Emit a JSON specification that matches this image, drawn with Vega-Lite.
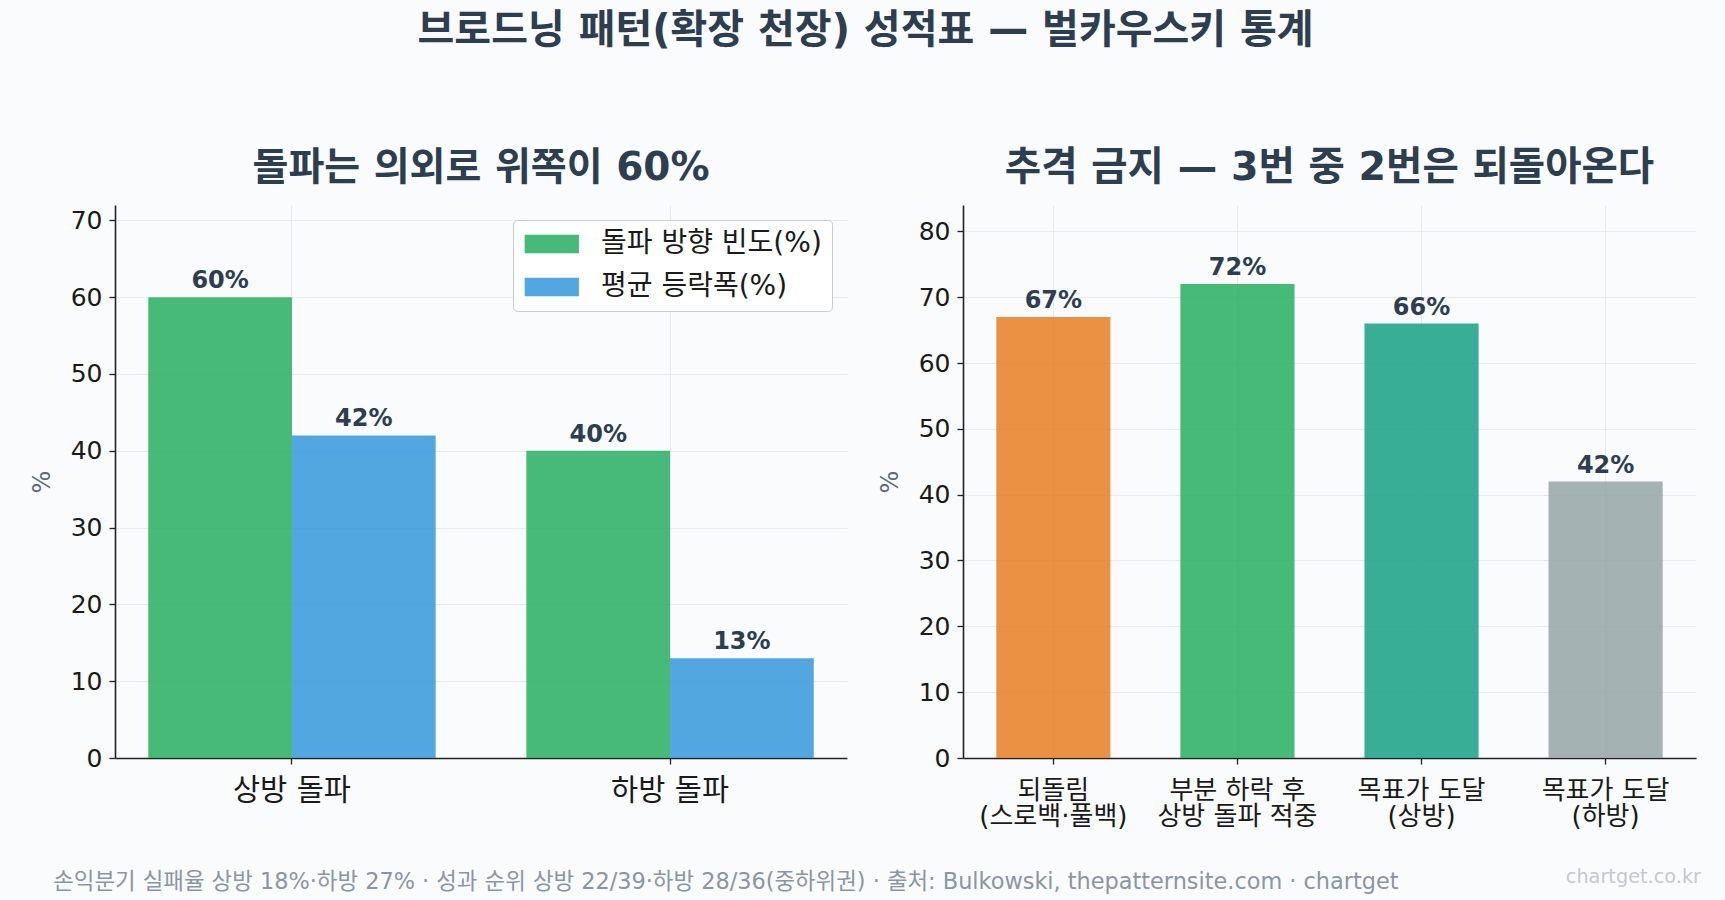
{
  "$schema": "https://vega.github.io/schema/vega-lite/v6.json",
  "background": "#fafbfc",
  "padding": {"left": 30, "right": 31, "top": 10, "bottom": 8},
  "title": {
    "text": "브로드닝 패턴(확장 천장) 성적표 — 벌카우스키 통계",
    "fontSize": 40,
    "fontWeight": "bold",
    "color": "#2c3e50",
    "anchor": "middle",
    "offset": 97
  },
  "config": {
    "font": "DejaVu Sans, Noto Sans CJK KR",
    "view": {"stroke": null},
    "axis": {
      "domainColor": "#222222",
      "domainWidth": 1.6,
      "tickColor": "#222222",
      "tickWidth": 1.3,
      "tickSize": 6,
      "labelColor": "#1a1a1a",
      "labelFontSize": 25,
      "labelPadding": 7,
      "gridColor": "#e8eaed",
      "gridWidth": 1,
      "titleColor": "#5a6a7d",
      "titleFontWeight": "normal",
      "titleFontSize": 24
    }
  },
  "vconcat": [
    {
      "title": {
        "text": "chartget.co.kr",
        "orient": "bottom",
        "anchor": "end",
        "fontSize": 19.3,
        "fontWeight": "normal",
        "color": "#c3c9d1",
        "offset": -25,
        "dx": 5
      },
      "vconcat": [
        {
          "title": {
            "text": "손익분기 실패율 상방 18%·하방 27% · 성과 순위 상방 22/39·하방 28/36(중하위권) · 출처: Bulkowski, thepatternsite.com · chartget",
            "orient": "bottom",
            "anchor": "start",
            "fontSize": 22.4,
            "fontWeight": "normal",
            "color": "#8a95a6",
            "offset": 41,
            "dx": 23
          },
          "spacing": 31,
          "resolve": {"scale": {"color": "independent"}, "legend": {"color": "independent"}},
          "hconcat": [
            {
              "width": 732,
              "height": 553,
              "title": {
                "text": "돌파는 의외로 위쪽이 60%",
                "fontSize": 39,
                "fontWeight": "bold",
                "color": "#2c3e50",
                "anchor": "middle",
                "frame": "group",
                "offset": 17
              },
              "data": {
                "values": [
                  {"방향": "상방 돌파", "지표": "돌파 방향 빈도(%)", "값": 60},
                  {"방향": "상방 돌파", "지표": "평균 등락폭(%)", "값": 42},
                  {"방향": "하방 돌파", "지표": "돌파 방향 빈도(%)", "값": 40},
                  {"방향": "하방 돌파", "지표": "평균 등락폭(%)", "값": 13}
                ]
              },
              "transform": [{"calculate": "datum['값'] + '%'", "as": "표시"}],
              "encoding": {
                "x": {
                  "field": "방향",
                  "type": "nominal",
                  "sort": ["상방 돌파", "하방 돌파"],
                  "scale": {"paddingInner": 0.24, "paddingOuter": 0.088},
                  "axis": {"title": null, "labelAngle": 0, "labelFontSize": 29.5, "labelPadding": 12, "grid": true, "bandPosition": 0.5}
                },
                "xOffset": {
                  "field": "지표",
                  "type": "nominal",
                  "sort": ["돌파 방향 빈도(%)", "평균 등락폭(%)"],
                  "scale": {"paddingInner": 0, "paddingOuter": 0}
                },
                "y": {
                  "field": "값",
                  "type": "quantitative",
                  "scale": {"domain": [0, 72], "nice": false},
                  "axis": {"title": "%", "values": [0, 10, 20, 30, 40, 50, 60, 70], "titlePadding": 16}
                }
              },
              "layer": [
                {
                  "mark": {"type": "bar", "opacity": 0.85},
                  "encoding": {
                    "color": {
                      "field": "지표",
                      "type": "nominal",
                      "sort": ["돌파 방향 빈도(%)", "평균 등락폭(%)"],
                      "scale": {"domain": ["돌파 방향 빈도(%)", "평균 등락폭(%)"], "range": ["#27ae60", "#3498db"]},
                      "legend": {
                        "title": null,
                        "orient": "top-right",
                        "offset": 15,
                        "direction": "vertical",
                        "fillColor": "#ffffff",
                        "strokeColor": "#cccccc",
                        "cornerRadius": 4,
                        "padding": 10,
                        "labelFontSize": 28,
                        "labelLimit": 400,
                        "labelColor": "#1a1a1a",
                        "labelOffset": 50,
                        "rowPadding": 15,
                        "symbolType": "M-1.32,-1H4.48V1H-1.32Z",
                        "symbolSize": 350,
                        "symbolOpacity": 0.85,
                        "symbolStrokeWidth": 0
                      }
                    }
                  }
                },
                {
                  "mark": {"type": "text", "baseline": "bottom", "dy": -4, "fontSize": 24, "fontWeight": "bold", "color": "#2c3e50"},
                  "encoding": {"text": {"field": "표시"}}
                }
              ]
            },
            {
              "width": 733,
              "height": 553,
              "title": {
                "text": "추격 금지 — 3번 중 2번은 되돌아온다",
                "fontSize": 39.5,
                "fontWeight": "bold",
                "color": "#2c3e50",
                "anchor": "middle",
                "frame": "group",
                "offset": 17
              },
              "data": {
                "values": [
                  {"항목": "되돌림\n(스로백·풀백)", "값": 67},
                  {"항목": "부분 하락 후\n상방 돌파 적중", "값": 72},
                  {"항목": "목표가 도달\n(상방)", "값": 66},
                  {"항목": "목표가 도달\n(하방)", "값": 42}
                ]
              },
              "transform": [{"calculate": "datum['값'] + '%'", "as": "표시"}],
              "encoding": {
                "x": {
                  "field": "항목",
                  "type": "nominal",
                  "sort": null,
                  "scale": {"paddingInner": 0.38, "paddingOuter": 0.181},
                  "axis": {"title": null, "labelAngle": 0, "labelFontSize": 26, "labelLineHeight": 26.5, "labelPadding": 13, "labelExpr": "split(datum.label, '\\n')", "grid": true, "bandPosition": 0.5}
                },
                "y": {
                  "field": "값",
                  "type": "quantitative",
                  "scale": {"domain": [0, 84], "nice": false},
                  "axis": {"title": "%", "values": [0, 10, 20, 30, 40, 50, 60, 70, 80], "titlePadding": 16}
                }
              },
              "layer": [
                {
                  "mark": {"type": "bar", "opacity": 0.85},
                  "encoding": {
                    "color": {
                      "field": "항목",
                      "type": "nominal",
                      "sort": null,
                      "scale": {"range": ["#e67e22", "#27ae60", "#16a085", "#95a5a6"]},
                      "legend": null
                    }
                  }
                },
                {
                  "mark": {"type": "text", "baseline": "bottom", "dy": -4, "fontSize": 24, "fontWeight": "bold", "color": "#2c3e50"},
                  "encoding": {"text": {"field": "표시"}}
                }
              ]
            }
          ]
        }
      ]
    }
  ]
}
